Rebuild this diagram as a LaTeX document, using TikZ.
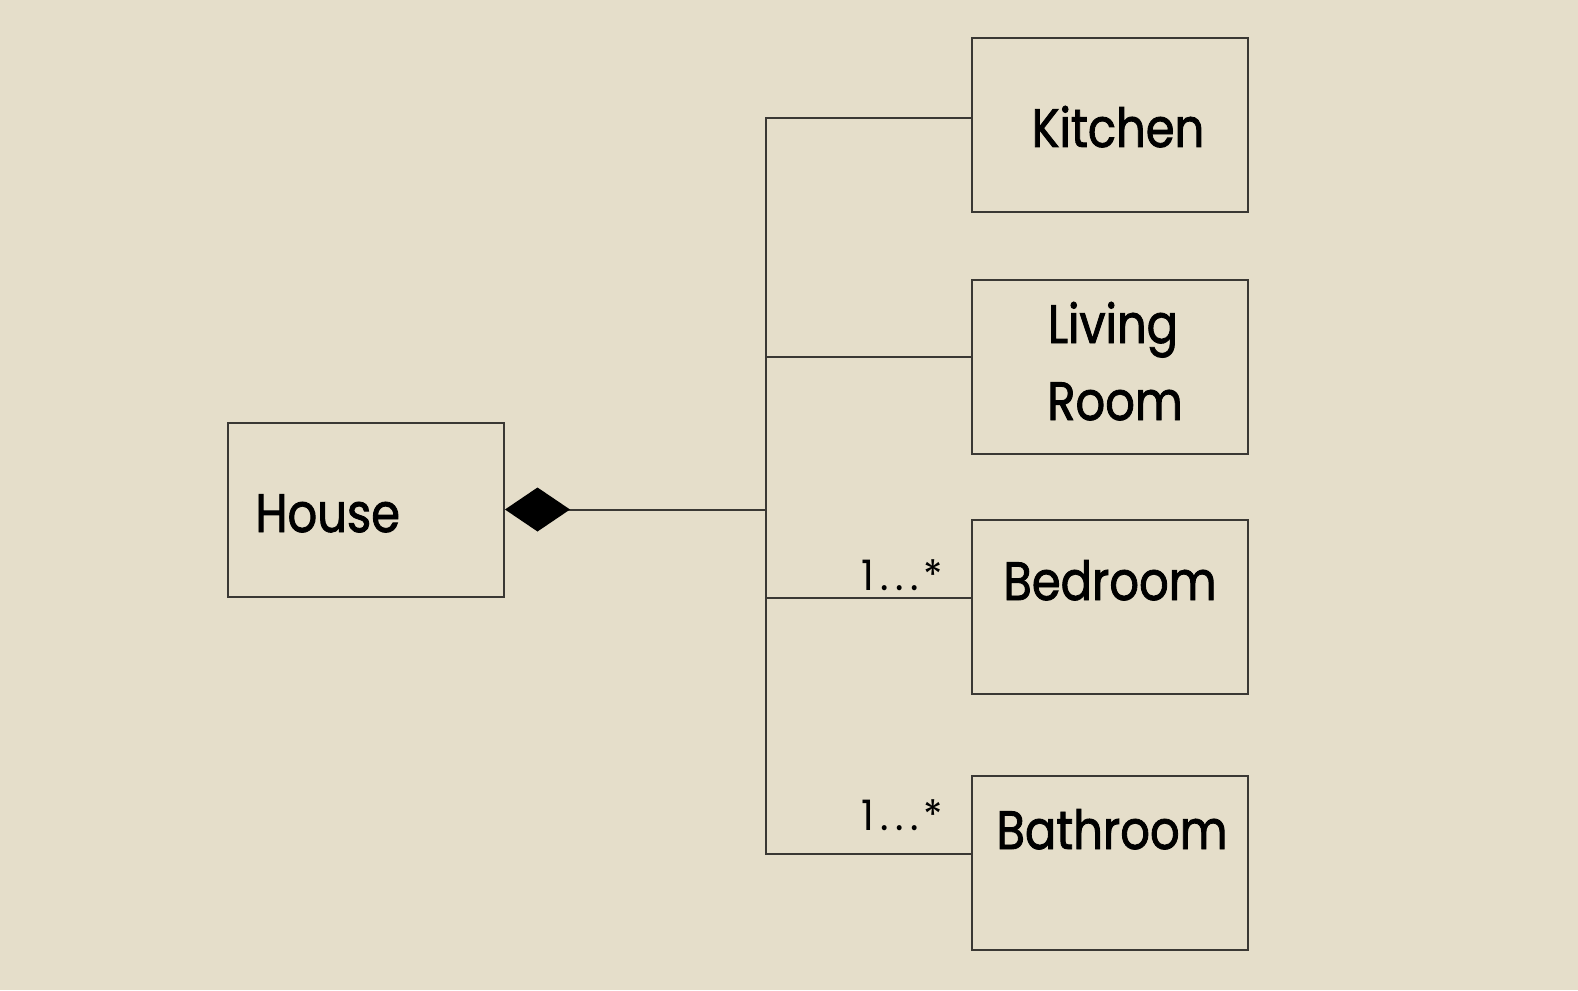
\documentclass[tikz,border=0pt]{standalone}
\usepackage{fontspec}
\setmainfont{Poppins}
\newfontfamily\lblfont{Poppins}[FakeStretch=0.86, FakeBold=1.6]
\newfontfamily\multfont{Poppins}[FakeStretch=0.95]
\usetikzlibrary{arrows.meta}
\definecolor{bg}{HTML}{E5DECA}
\definecolor{ln}{HTML}{3A3834}
\begin{document}
\begin{tikzpicture}[x=0.5pt,y=-0.5pt,
  box/.style={draw=ln, line width=1pt, rectangle, inner sep=0pt, minimum width=138pt, minimum height=87pt},
  conn/.style={draw=ln, line width=1pt},
  lbl/.style={inner sep=0pt, anchor=base, font=\fontsize{27}{38}\lblfont},
  mult/.style={inner sep=0pt, anchor=base east, font=\fontsize{21}{24}\multfont}]
\fill[bg] (0,0) rectangle (1578,990);
\useasboundingbox (0,0) rectangle (1578,990);
% boxes
\node[box] (house) at (366,509.5) {};
\node[box] (kitchen) at (1109.5,125) {};
\node[box] (living) at (1109.5,367) {};
\node[box] (bedroom) at (1109.5,607) {};
\node[box] (bathroom) at (1109.5,863) {};
% texts
\node[lbl, anchor=base west] (thouse) at (255,532) {House};
\node[lbl] (tkitchen) at (1118,147) {Kitchen};
\node[lbl] (tliving) at (1113,343) {Living};
\node[lbl] (troom) at (1115,420) {Room};
\node[lbl] (tbedroom) at (1110,600) {Bedroom};
\node[lbl] (tbathroom) at (1112,849) {Bathroom};
% connectors
\coordinate (J) at (766,509.5);
\draw[conn, {Diamond[length=32.5pt,width=22pt,fill=black,color=black]}-] (house.east) -- (J);
\draw[conn] (J) |- ([yshift=3.5pt]kitchen.west);
\draw[conn] (J) |- ([yshift=5pt]living.west);
\draw[conn] (J) |- ([yshift=4.5pt]bedroom.west);
\draw[conn] (J) |- ([yshift=4.5pt]bathroom.west);
% multiplicities
\node[mult] (m1) at (943,590) {1\kern3pt.\kern3.5pt.\kern3.5pt.\kern2pt*};
\node[mult] (m2) at (943,830) {1\kern3pt.\kern3.5pt.\kern3.5pt.\kern2pt*};
\end{tikzpicture}
\end{document}
